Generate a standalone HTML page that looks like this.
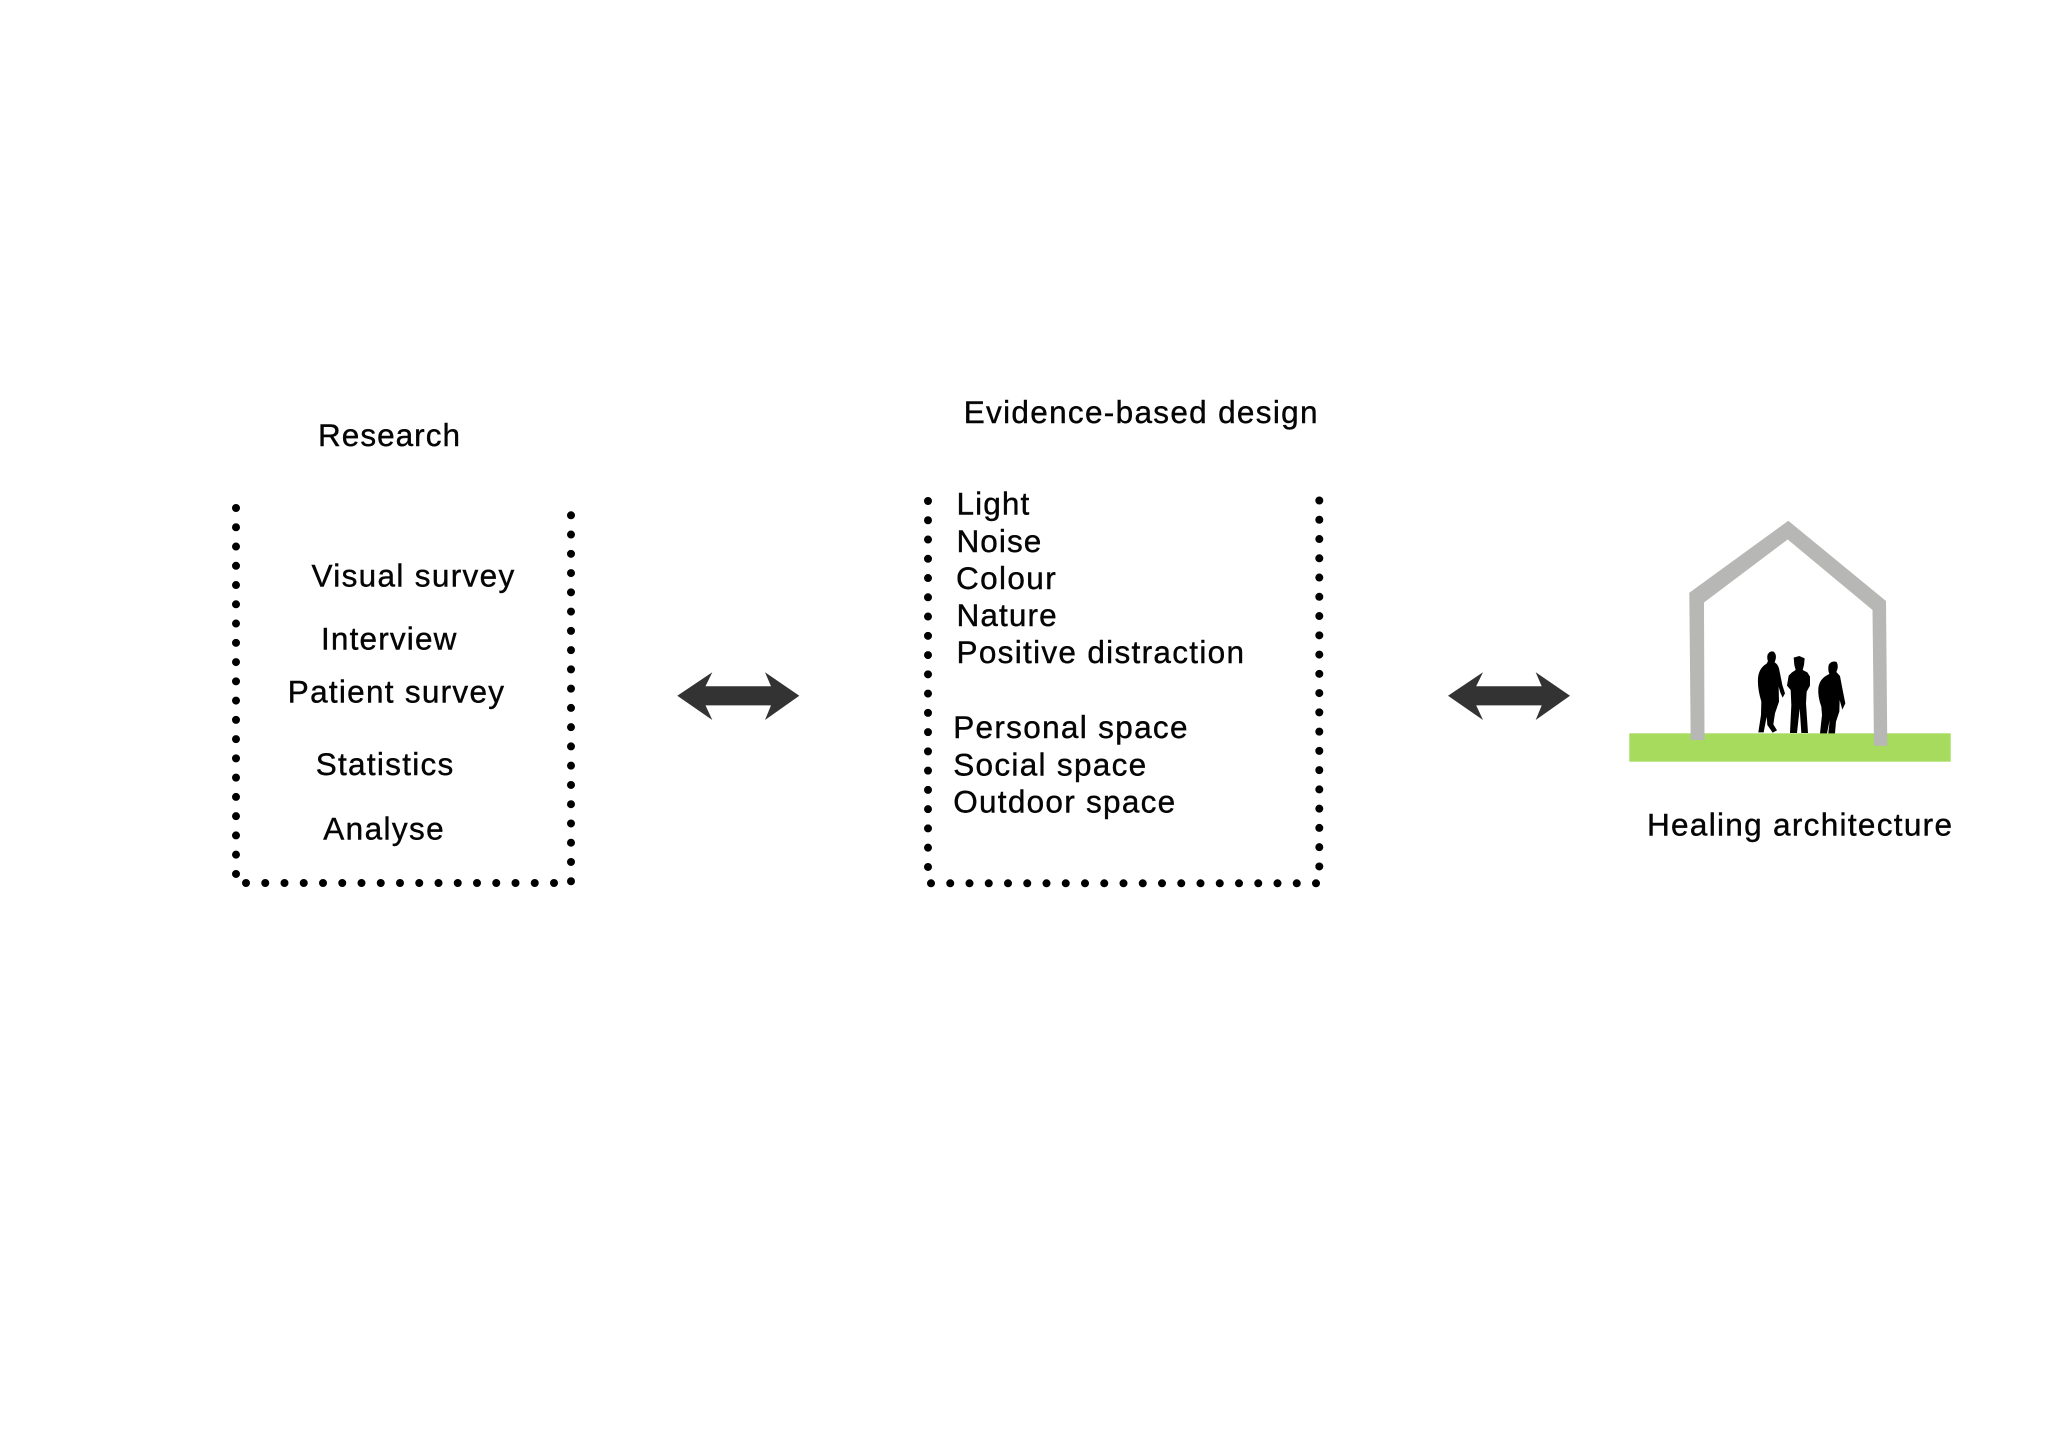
<!DOCTYPE html>
<html>
<head>
<meta charset="utf-8">
<style>
html,body{margin:0;padding:0;background:#fff;width:2048px;height:1444px;overflow:hidden}
svg{display:block}
text{font-family:"Liberation Sans",Arial,sans-serif;font-size:31.5px;fill:#050505;stroke:#050505;stroke-width:.4px}
</style>
</head>
<body>
<svg width="2048" height="1444" viewBox="0 0 2048 1444" xmlns="http://www.w3.org/2000/svg">
<rect width="2048" height="1444" fill="#fff"/>

<g fill="none" stroke="#000" stroke-width="8" stroke-linecap="round">
  <path d="M236 508V875" stroke-dasharray="0 19.26"/>
  <path d="M571 515.3V882" stroke-dasharray="0 19.26"/>
  <path d="M246 883H555" stroke-dasharray="0 19.25"/>
  <path d="M928 501V868" stroke-dasharray="0 19.26"/>
  <path d="M1319.3 500.5V867.5" stroke-dasharray="0 19.26"/>
  <path d="M931 883.3H1317" stroke-dasharray="0 19.25"/>
</g>

<text x="318" y="446" textLength="142" lengthAdjust="spacing">Research</text>
<text x="311.5" y="586.3" textLength="202.7" lengthAdjust="spacing">Visual survey</text>
<text x="321" y="649.3" textLength="135.4" lengthAdjust="spacing">Interview</text>
<text x="287.8" y="702.3" textLength="216.2" lengthAdjust="spacing">Patient survey</text>
<text x="315.7" y="775" textLength="137.6" lengthAdjust="spacing">Statistics</text>
<text x="323.3" y="839.3" textLength="120.3" lengthAdjust="spacing">Analyse</text>

<text x="963.7" y="423" textLength="353.8" lengthAdjust="spacing">Evidence-based design</text>
<text x="956.5" y="514.3" textLength="72.8" lengthAdjust="spacing">Light</text>
<text x="956.5" y="551.8" textLength="84.8" lengthAdjust="spacing">Noise</text>
<text x="956" y="588.8" textLength="99.7" lengthAdjust="spacing">Colour</text>
<text x="956.5" y="625.9" textLength="100.2" lengthAdjust="spacing">Nature</text>
<text x="956.5" y="663" textLength="287.5" lengthAdjust="spacing">Positive distraction</text>
<text x="953.2" y="738.2" textLength="234.3" lengthAdjust="spacing">Personal space</text>
<text x="953.2" y="775.4" textLength="193" lengthAdjust="spacing">Social space</text>
<text x="953.2" y="812.5" textLength="222" lengthAdjust="spacing">Outdoor space</text>

<text x="1647" y="835.3" textLength="305" lengthAdjust="spacing">Healing architecture</text>

<path fill="#333" d="M677.3 695.7L712.3 672.3L705.5 686.2H771L765 672.3L799.3 695.7L765 720L771 705.4H705.5L712.3 720Z"/>
<path fill="#333" transform="translate(770.7 0)" d="M677.3 695.7L712.3 672.3L705.5 686.2H771L765 672.3L799.3 695.7L765 720L771 705.4H705.5L712.3 720Z"/>

<rect x="1629.3" y="733.3" width="321.4" height="28.4" fill="#a6db5e"/>
<path fill="#b7b7b5" d="M1689.3 592.7L1788.3 520.7L1886 601L1887.3 745.7H1874L1872.5 610L1787.7 539.5L1704 602.5L1704.5 740H1690.7Z"/>

<g transform="translate(1750 645) scale(0.33333)" fill="#000">
  <path d="M53 28Q60 16 71 20Q80 28 77 42L74 52Q86 58 89 80L97 120L105 145L98 158L91 143L86 125L87 170L75 205L70 238L81 256L68 263L52 240L50 215L41 262L25 262L33 210L34 170Q22 130 24 100Q26 70 50 56L54 48Q50 40 53 28Z"/>
  <path d="M131 38L148 33L164 40L162 60L158 75L172 82L180 95L180 122L170 140L168 175L174 264L154 264L149 190L141 264L120 264L124 180L122 135L111 122L116 92L126 82L137 75L133 60Z"/>
</g>
<g transform="translate(1800 650) scale(0.33333)" fill="#000">
  <path d="M86 45Q94 31 110 36Q117 50 109 66L120 78L127 115L136 160L127 179L119 150L118 185L108 215L105 250L85 250L89 210L81 250L60 250L66 195L64 170Q53 140 55 115Q58 85 88 72Q83 60 86 45Z"/>
</g>
</svg>
</body>
</html>
